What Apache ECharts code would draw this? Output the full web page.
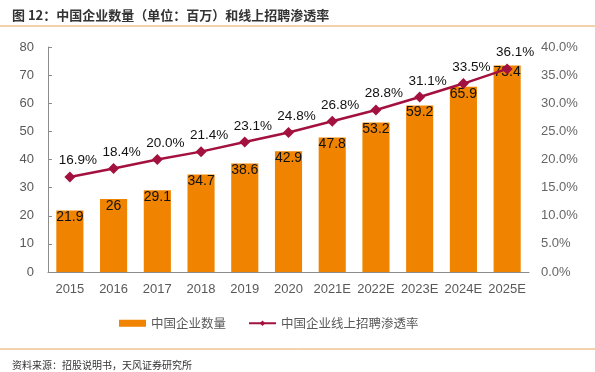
<!DOCTYPE html>
<html><head><meta charset="utf-8">
<script src="https://cdn.jsdelivr.net/npm/echarts@6/dist/echarts.min.js"></script>
<style>html,body{margin:0;padding:0;background:#fff}#c{width:595px;height:372px}</style>
</head><body><div id="c"></div>
<script>
const categories = ['2015','2016','2017','2018','2019','2020','2021E','2022E','2023E','2024E','2025E'];
const companyCount = [21.9, 26, 29.1, 34.7, 38.6, 42.9, 47.8, 53.2, 59.2, 65.9, 73.4];
const penetrationRate = [16.9, 18.4, 20.0, 21.4, 23.1, 24.8, 26.8, 28.8, 31.1, 33.5, 36.1];
const barName = '中国企业数量';
const lineName = '中国企业线上招聘渗透率';
const titleText = '图 12：中国企业数量（单位：百万）和线上招聘渗透率';
const sourceText = '资料来源：招股说明书，天风证券研究所';

const chart = echarts.init(document.getElementById('c'));
const font = '"Liberation Sans", Arial, "Noto Sans CJK SC", sans-serif';
chart.setOption({
  animation: false,
  textStyle: {fontFamily: font},
  title: [
    {text: titleText, left: 7, top: 4, textStyle: {fontSize: 13, fontWeight: 'bold', color: '#333', fontFamily: '"Noto Sans CJK SC", sans-serif'}},
    {text: sourceText, left: 7, top: 355, textStyle: {fontSize: 10, fontWeight: 'normal', color: '#333', fontFamily: '"Noto Sans CJK SC", sans-serif'}}
  ],
  graphic: [
    {type: 'line', shape: {x1: 0, y1: 26, x2: 595, y2: 26}, style: {stroke: '#E9A45A', lineWidth: 1}},
    {type: 'line', shape: {x1: 0, y1: 349, x2: 595, y2: 349}, style: {stroke: '#E9A45A', lineWidth: 1}}
  ],
  legend: {
    top: 312, left: 114, itemGap: 22, itemWidth: 27, itemHeight: 7,
    textStyle: {fontSize: 12.5, color: '#595959', fontFamily: '"Noto Sans CJK SC", sans-serif'},
    data: [
      {name: barName, icon: 'rect'},
      {name: lineName}
    ]
  },
  grid: {left: 48, right: 66, top: 47, bottom: 100},
  xAxis: {
    type: 'category', data: categories,
    axisLine: {lineStyle: {color: '#8c8c8c'}},
    axisTick: {inside: true, length: 4, lineStyle: {color: '#8c8c8c'}},
    axisLabel: {color: '#595959', fontSize: 13, margin: 11, interval: 0}
  },
  yAxis: [
    {type: 'value', min: 0, max: 80, interval: 10,
     axisLine: {show: true, lineStyle: {color: '#8c8c8c'}},
     axisTick: {show: true, inside: true, length: 4, lineStyle: {color: '#8c8c8c'}},
     splitLine: {show: false},
     axisLabel: {color: '#595959', fontSize: 13, margin: 14}},
    {type: 'value', min: 0, max: 40, interval: 5,
     axisLine: {show: false}, axisTick: {show: false},
     splitLine: {show: false},
     axisLabel: {color: '#666', fontSize: 13, margin: 12, formatter: v => v.toFixed(1) + '%'}}
  ],
  series: [
    {name: barName, type: 'bar', data: companyCount, barWidth: '62%',
     itemStyle: {color: '#F08300'},
     label: {show: true, position: 'insideTop', distance: 0, color: '#111', fontSize: 14}},
    {name: lineName, type: 'line', yAxisIndex: 1, data: penetrationRate,
     symbol: 'diamond', symbolSize: 11,
     lineStyle: {color: '#A3113F', width: 2.5},
     itemStyle: {color: '#A3113F'},
     label: {show: true, position: 'top', distance: 4, offset: [8, 0], color: '#111', fontSize: 13.5, formatter: p => p.value.toFixed(1) + '%'}}
  ]
});
</script></body></html>
